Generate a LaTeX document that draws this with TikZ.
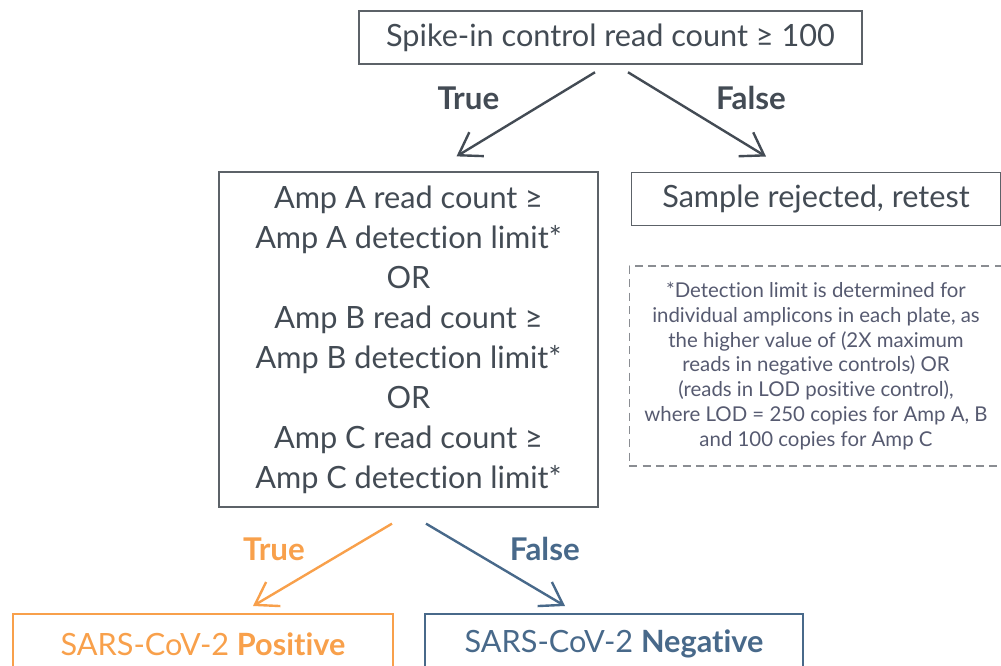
\documentclass[tikz,border=0pt]{standalone}
\usepackage{fontspec}
\setmainfont{Lato}[RawFeature=-liga]
\usetikzlibrary{calc,arrows.meta}

\definecolor{darktext}{HTML}{434B54}
\definecolor{boxline}{HTML}{5C6268}
\definecolor{notegray}{HTML}{8A8D92}
\definecolor{notetext}{HTML}{565A70}
\definecolor{posorange}{HTML}{F8A04B}
\definecolor{negblue}{HTML}{48698A}

\begin{document}
\begin{tikzpicture}[x=0.75pt, y=-0.75pt,
    stepbox/.style={draw=boxline, line width=1.2pt, inner sep=0pt, align=center,
      text=darktext, font={\fontsize{23}{30}\selectfont}},
    decision/.style={font={\fontsize{23.5}{30}\selectfont\bfseries}},
    arr/.style={line width=1.8pt, -{Straight Barb[length=16pt, width=21pt, line width=1.8pt]}}
  ]
    \useasboundingbox (0,0) rectangle (1001,665);

    \node[stepbox, minimum width=377pt, minimum height=40pt] (spike) at (610.5,37.5)
      {Spike-in control read count ≥ 100};
    \node[stepbox, minimum width=284pt, minimum height=251pt] (amp) at (408.5,339.5)
      {Amp A read count ≥\\Amp A detection limit*\\OR\\Amp B read count ≥\\Amp B detection limit*\\OR\\Amp C read count ≥\\Amp C detection limit*};
    \node[stepbox, minimum width=277pt, minimum height=40pt] (reject) at (816,199)
      {Sample rejected, retest};
    \node[draw=notegray, dashed, line width=1pt, dash pattern=on 6pt off 4pt, inner sep=0pt,
      minimum width=280pt, minimum height=150pt, align=center, text=notetext,
      font={\fontsize{15.3}{18.6}\selectfont}] (note) at (816,366)
      {*Detection limit is determined for\\individual amplicons in each plate, as\\the higher value of (2X maximum\\reads in negative controls) OR\\(reads in LOD positive control),\\where LOD = 250 copies for Amp A, B\\and 100 copies for Amp C};

    % outcomes
    \node[stepbox, draw=posorange, text=posorange, anchor=north, minimum width=285pt,
      minimum height=45pt] (pos) at (203,613) {SARS-CoV-2 \textbf{Positive}};
    \node[stepbox, draw=negblue, text=negblue, anchor=north, minimum width=283.5pt,
      minimum height=45pt] (neg) at (614,613) {SARS-CoV-2 \textbf{Negative}};

    \draw[arr, draw=darktext] ($(spike.south)+(-15.5,7.3)$) -- ($(amp.north)+(48,-15)$)
      node[pos=0.5, decision, text=darktext, xshift=-43pt, yshift=12pt] {True};
    \draw[arr, draw=darktext] ($(spike.south)+(17.5,7.3)$) -- ($(reject.north)+(-50,-15)$)
      node[pos=0.5, decision, text=darktext, xshift=40.5pt, yshift=12pt] {False};

    \draw[arr, draw=posorange] ($(amp.south)+(-16.5,16)$) -- ($(pos.north)+(50,-7)$)
      node[pos=0.5, decision, text=posorange, xshift=-36.4pt, yshift=12pt] {True};
    \draw[arr, draw=negblue] ($(amp.south)+(17.5,16)$) -- ($(neg.north)+(-49,-7)$)
      node[pos=0.5, decision, text=negblue, xshift=37pt, yshift=12pt] {False};
  \end{tikzpicture}
\end{document}
